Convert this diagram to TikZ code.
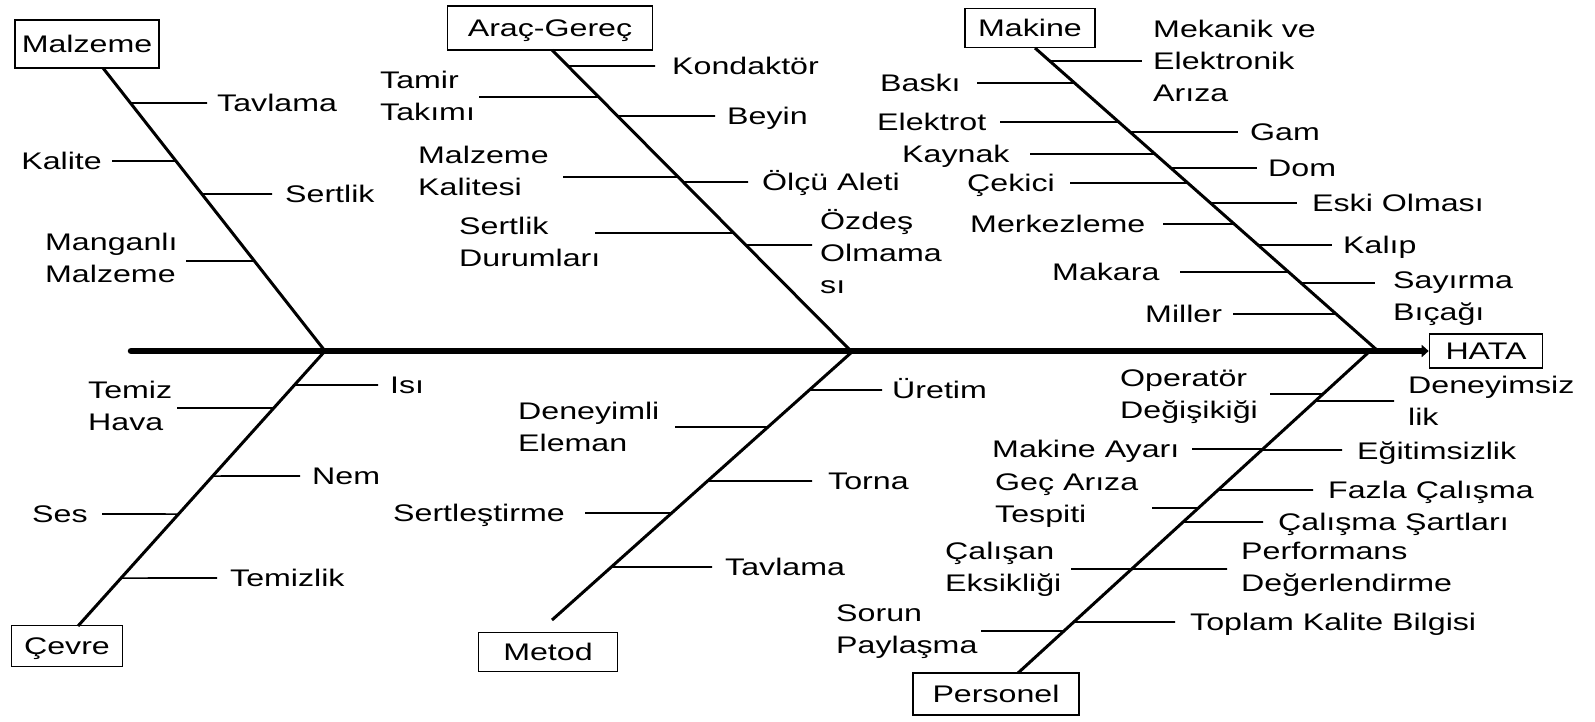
\documentclass[tikz,border=0pt]{standalone}
\usepackage{fontspec}
\setmainfont{Liberation Sans}[FakeStretch=1.34]
\usetikzlibrary{arrows.meta}
\newcommand\ribto[4]{\draw[rib] (intersection of #1--#2 and 0,#3--1,#3) -- (#4,#3);}
\begin{document}
\begin{tikzpicture}[x=1pt,y=-1pt,
  lab/.style={anchor=west,inner sep=0pt,align=left,font=\fontsize{24}{32}\selectfont},
  one/.style={text height=17pt,text depth=0pt},
  catbox/.style={draw,line width=1.6pt,inner sep=0pt,text height=17pt,text depth=0pt,font=\fontsize{24}{32}\selectfont},
  rib/.style={line width=1.6pt},
  bone/.style={line width=3pt},
  spine/.style={line width=6.5pt}]
\fill[white] (0,0) rectangle (1595,721);
\useasboundingbox (0,0) rectangle (1595,721);

% category boxes
\node[catbox,minimum width=144pt,minimum height=48pt] (malz) at (87,44) {Malzeme};
\node[catbox,minimum width=205pt,minimum height=44pt] (arac) at (550,28) {Araç-Gereç};
\node[catbox,minimum width=130pt,minimum height=39pt] (mak) at (1030,28) {Makine};
\node[catbox,minimum width=113pt,minimum height=34pt] (hata) at (1486,351) {HATA};
\node[catbox,minimum width=111pt,minimum height=41pt] (cevre) at (67,646) {Çevre};
\node[catbox,minimum width=139pt,minimum height=39pt] (metod) at (548,652) {Metod};
\node[catbox,minimum width=166pt,minimum height=42pt] (pers) at (996,694) {Personel};

% bone coordinates
\coordinate (mzT) at (103,68);  \coordinate (mzJ) at (325,351);
\coordinate (arT) at (552,50);  \coordinate (arJ) at (851,351);
\coordinate (mkT) at (1035,48); \coordinate (mkJ) at (1378,351);
\coordinate (cvJ) at (325,351); \coordinate (cvB) at (78,626);
\coordinate (mtJ) at (853,351); \coordinate (mtB) at (552,620);
\coordinate (psJ) at (1370,351); \coordinate (psB) at (1018,673);
\coordinate (spL) at (131,351);

% spine and bones
\draw[spine,line cap=round,-{Triangle[length=7pt,width=12pt]}] (spL) -- (spL -| hata.west);
\draw[bone] (mzT) -- (mzJ);
\draw[bone] (arT) -- (arJ);
\draw[bone] (mkT) -- (mkJ);
\draw[bone] (cvJ) -- (cvB);
\draw[bone] (mtJ) -- (mtB);
\draw[bone] (psJ) -- (psB);

% Malzeme
\node[lab,one] (l1) at (217,103) {Tavlama};
\node[lab,one,anchor=east] (l2) at (102,161) {Kalite};
\node[lab,one] (l3) at (285,194) {Sertlik};
\node[lab] (l4) at (45,258) {Manganlı\\Malzeme};
\ribto{mzT}{mzJ}{103}{207}
\ribto{mzT}{mzJ}{161}{112}
\ribto{mzT}{mzJ}{194}{272}
\ribto{mzT}{mzJ}{261}{186}

% Arac-Gerec
\node[lab,one] (a1) at (672,66) {Kondaktör};
\node[lab] (a2) at (380,96) {Tamir\\Takımı};
\node[lab,one] (a3) at (727,116) {Beyin};
\node[lab] (a4) at (418,171) {Malzeme\\Kalitesi};
\node[lab,one] (a5) at (762,182) {Ölçü Aleti};
\node[lab] (a6) at (459,242) {Sertlik\\Durumları};
\node[lab] (a7) at (820,252) {Özdeş\\Olmama\\sı};
\ribto{arT}{arJ}{66}{655}
\ribto{arT}{arJ}{97}{479}
\ribto{arT}{arJ}{116}{715}
\ribto{arT}{arJ}{177}{563}
\ribto{arT}{arJ}{182}{748}
\ribto{arT}{arJ}{233}{595}
\ribto{arT}{arJ}{245}{812}

% Makine
\node[lab] (k1) at (1153,61) {Mekanik ve\\Elektronik\\Arıza};
\node[lab,one] (k2) at (880,83) {Baskı};
\node[lab,one] (k3) at (877,122) {Elektrot};
\node[lab,one] (k4) at (1250,132) {Gam};
\node[lab,one] (k5) at (902,154) {Kaynak};
\node[lab,one] (k6) at (1268,168) {Dom};
\node[lab,one] (k7) at (967,183) {Çekici};
\node[lab,one] (k8) at (1312,203) {Eski Olması};
\node[lab,one] (k9) at (970,224) {Merkezleme};
\node[lab,one] (k10) at (1343,245) {Kalıp};
\node[lab,one] (k11) at (1052,272) {Makara};
\node[lab] (k12) at (1393,299) {Sayırma\\Bıçağı};
\node[lab,one] (k13) at (1145,314) {Miller};
\ribto{mkT}{mkJ}{61}{1142}
\ribto{mkT}{mkJ}{83}{977}
\ribto{mkT}{mkJ}{122}{1000}
\ribto{mkT}{mkJ}{132}{1238}
\ribto{mkT}{mkJ}{154}{1030}
\ribto{mkT}{mkJ}{168}{1257}
\ribto{mkT}{mkJ}{183}{1070}
\ribto{mkT}{mkJ}{203}{1297}
\ribto{mkT}{mkJ}{224}{1163}
\ribto{mkT}{mkJ}{245}{1332}
\ribto{mkT}{mkJ}{272}{1180}
\ribto{mkT}{mkJ}{283}{1375}
\ribto{mkT}{mkJ}{314}{1233}

% Cevre
\node[lab,one] (c1) at (390,385) {Isı};
\node[lab] (c2) at (88,406) {Temiz\\Hava};
\node[lab,one] (c3) at (312,476) {Nem};
\node[lab,one] (c4) at (32,514) {Ses};
\node[lab,one] (c5) at (230,578) {Temizlik};
\ribto{cvJ}{cvB}{385}{378}
\ribto{cvJ}{cvB}{408}{177}
\ribto{cvJ}{cvB}{476}{300}
\ribto{cvJ}{cvB}{514}{102}
\ribto{cvJ}{cvB}{578}{217}

% Metod
\node[lab,one] (t1) at (892,390) {Üretim};
\node[lab] (t2) at (518,427) {Deneyimli\\Eleman};
\node[lab,one] (t3) at (828,481) {Torna};
\node[lab,one] (t4) at (393,513) {Sertleştirme};
\node[lab,one] (t5) at (725,567) {Tavlama};
\ribto{mtJ}{mtB}{390}{882}
\ribto{mtJ}{mtB}{427}{675}
\ribto{mtJ}{mtB}{481}{812}
\ribto{mtJ}{mtB}{513}{585}
\ribto{mtJ}{mtB}{567}{712}

% Personel
\node[lab] (p1) at (1120,397) {Operatör\\Değişikiği};
\node[lab] (p2) at (1408,401) {Deneyimsiz\\lik};
\node[lab,one] (p3) at (992,449) {Makine Ayarı};
\node[lab,one] (p4) at (1357,451) {Eğitimsizlik};
\node[lab,one] (p5) at (1328,490) {Fazla Çalışma};
\node[lab] (p6) at (995,501) {Geç Arıza\\Tespiti};
\node[lab,one] (p7) at (1278,522) {Çalışma Şartları};
\node[lab] (p8) at (945,569) {Çalışan\\Eksikliği};
\node[lab] (p9) at (1241,569) {Performans\\Değerlendirme};
\node[lab,one] (p10) at (1190,622) {Toplam Kalite Bilgisi};
\node[lab] (p11) at (836,632) {Sorun\\Paylaşma};
\ribto{psJ}{psB}{394}{1270}
\ribto{psJ}{psB}{401}{1394}
\ribto{psJ}{psB}{449}{1192}
\ribto{psJ}{psB}{450}{1342}
\ribto{psJ}{psB}{490}{1313}
\ribto{psJ}{psB}{508}{1152}
\ribto{psJ}{psB}{522}{1263}
\ribto{psJ}{psB}{569}{1071}
\ribto{psJ}{psB}{569}{1227}
\ribto{psJ}{psB}{622}{1175}
\ribto{psJ}{psB}{631}{981}
\end{tikzpicture}
\end{document}
